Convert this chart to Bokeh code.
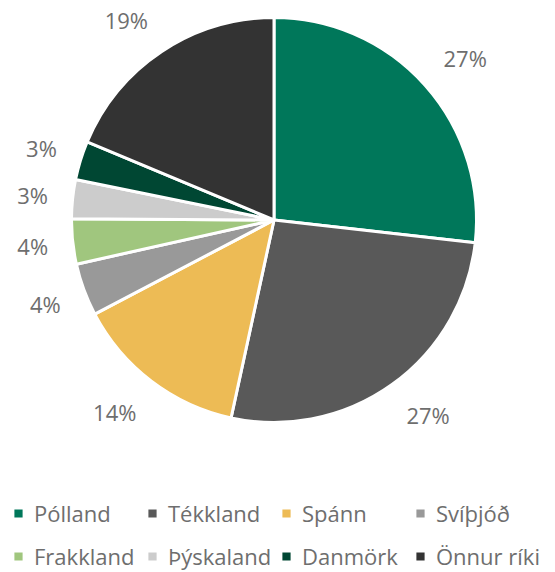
import math
from bokeh.plotting import figure
from bokeh.models import ColumnDataSource, Range1d, Legend, LegendItem
from bokeh.core.properties import value
from bokeh.embed import file_html
from bokeh.resources import INLINE

countries = ["Pólland", "Tékkland", "Spánn", "Svíþjóð", "Frakkland", "Þýskaland", "Danmörk", "Önnur ríki"]
shares = [26.8, 26.6, 13.9, 4.2, 3.6, 3.1, 3.1, 18.7]
colors = ["#00775A", "#595959", "#EDBB55", "#999999", "#A0C67E", "#CCCCCC", "#004733", "#333333"]

W, H = 555, 572
cx, cy = 273.5, H - 219.5
R = 202.5
LABEL_R = 227
FS = 22


def clamp(v):
    return max(-1.0, min(1.0, v))


total = sum(shares)
starts, ends, lx, ly, labels = [], [], [], [], []
cum = 0.0
for v in shares:
    a0 = math.pi / 2 - 2 * math.pi * cum / total
    cum += v
    a1 = math.pi / 2 - 2 * math.pi * cum / total
    starts.append(a0)
    ends.append(a1)
    mid = (a0 + a1) / 2
    lab = f"{v:.0f}%"
    ux, uy = math.cos(mid), math.sin(mid)
    bw = FS * (0.572 * (len(lab) - 1) + 0.842)
    bh = FS
    lx.append(cx + LABEL_R * ux + clamp(2 * ux) * bw / 2)
    ly.append(cy + LABEL_R * uy + clamp(1.5 * uy) * bh / 2)
    labels.append(lab)

src = ColumnDataSource(dict(country=countries, share=shares, color=colors,
                            start=starts, end=ends, lx=lx, ly=ly, label=labels,
                            x=[cx] * len(shares), y=[cy] * len(shares)))

p = figure(width=W, height=H, output_backend="svg", toolbar_location=None,
           x_range=Range1d(0, W), y_range=Range1d(0, H), min_border=0)
p.axis.visible = False
p.grid.visible = False
p.outline_line_color = None
p.background_fill_color = "white"

r = p.wedge(x="x", y="y", radius=R, start_angle="start", end_angle="end",
            direction="clock", fill_color="color", line_color="white", line_width=3,
            source=src)

p.text(x="lx", y="ly", text="label", source=src, text_align="center",
       text_baseline="middle", text_font=value("Open Sans"), text_font_size=f"{FS}px",
       text_color="#6e6e6e")

items = [LegendItem(label=c, renderers=[r], index=i) for i, c in enumerate(countries)]
legend = Legend(items=items, location=(11, -2), orientation="horizontal", nrows=2,
                glyph_width=14, glyph_height=14, label_standoff=9, label_width=104,
                spacing=7, padding=0, margin=0, border_line_color=None,
                background_fill_alpha=0, label_text_font="Open Sans",
                label_text_font_size=f"{FS}px", label_text_color="#6e6e6e",
                label_height=36)
p.add_layout(legend)

open("out.html", "w").write(file_html(p, INLINE))
